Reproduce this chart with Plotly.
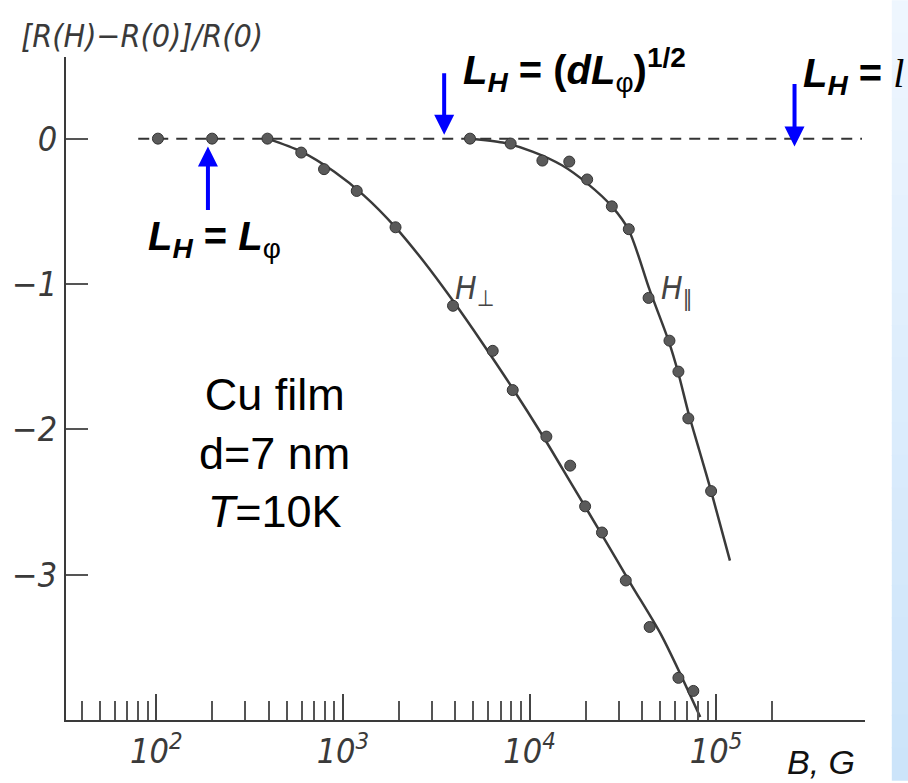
import plotly.graph_objects as go

# ---------------- data ----------------
perp_B = [102, 199, 394, 598, 792, 1186, 1914, 3890, 6350, 8128, 12310, 16520,
          19860, 24450, 32800, 44030, 62800, 75500]
perp_R = [0, 0, 0, -0.096, -0.21, -0.36, -0.61, -1.15, -1.46, -1.73, -2.05, -2.25,
          -2.53, -2.71, -3.04, -3.36, -3.71, -3.80]
perp_fit_B = [394, 598, 896, 1294, 1914, 2698, 3890, 5623, 8128, 11720, 16940,
              24450, 35320, 50940, 82200]
perp_fit_R = [0, -0.089, -0.226, -0.39, -0.61, -0.842, -1.116, -1.411, -1.719,
              -2.041, -2.384, -2.726, -3.075, -3.418, -3.98]

par_B = [4797, 7925, 11720, 16330, 20370, 27610, 34040, 43450, 56230, 62800, 70960, 94000]
par_R = [0, -0.034, -0.151, -0.158, -0.281, -0.466, -0.623, -1.096, -1.39, -1.603,
         -1.925, -2.425]
par_fit_B = [4797, 7178, 10370, 15000, 20370, 27610, 34040, 44030, 55590, 62800,
             70960, 81230, 94000, 118600]
par_fit_R = [0, -0.027, -0.089, -0.185, -0.308, -0.466, -0.630, -1.041, -1.390,
             -1.616, -1.884, -2.144, -2.425, -2.904]

zero_B = [80, 605000]
zero_R = [0, 0]

x_major = [100, 1000, 10000, 100000]
x_major_text = ["10<sup>2</sup>", "10<sup>3</sup>", "10<sup>4</sup>", "10<sup>5</sup>"]
x_minor = [40, 50, 60, 70, 80, 90,
           200, 300, 400, 500, 600, 700, 800, 900,
           2000, 3000, 4000, 5000, 6000, 7000, 8000, 9000,
           20000, 30000, 40000, 50000, 60000, 70000, 80000, 90000,
           200000]
y_ticks = [0, -1, -2, -3]
y_ticktext = ["0", "\u22121", "\u22122", "\u22123"]

# ---------------- layout helpers ----------------
W, H = 908, 783
L_M, R_M, T_M, B_M = 60, 43, 57, 60
PW, PH = W - L_M - R_M, H - T_M - B_M


def PX(x):
    return (x - L_M) / PW


def PY(y):
    return (H - B_M - y) / PH


SCAN = "Liberation Sans Narrow, DejaVu Sans Condensed, Arial Narrow, sans-serif"
ARIAL = "Liberation Sans, Arial, sans-serif"
INK = "#3a3a3a"

fig = go.Figure()

fig.add_trace(go.Scatter(x=zero_B, y=zero_R, mode="lines",
                         line=dict(color="#333333", width=2, dash="11px,8px"),
                         hoverinfo="skip", showlegend=False))
fig.add_trace(go.Scatter(x=perp_fit_B, y=perp_fit_R, mode="lines", line_shape="spline",
                         line=dict(color=INK, width=2.5, smoothing=0.8), showlegend=False))
fig.add_trace(go.Scatter(x=par_fit_B, y=par_fit_R, mode="lines", line_shape="spline",
                         line=dict(color=INK, width=2.5, smoothing=0.8), showlegend=False))
fig.add_trace(go.Scatter(x=perp_B, y=perp_R, mode="markers",
                         marker=dict(size=11, color="#5a5a5a",
                                     line=dict(color="#333333", width=1)),
                         showlegend=False))
fig.add_trace(go.Scatter(x=par_B, y=par_R, mode="markers",
                         marker=dict(size=11, color="#5a5a5a",
                                     line=dict(color="#333333", width=1)),
                         showlegend=False))

# light-blue strip on the right edge (gradient)
n = 24
c0 = (238, 246, 254)
c1 = (204, 228, 250)
for i in range(n):
    t = i / (n - 1)
    col = "rgb(%d,%d,%d)" % tuple(round(a + (b - a) * t) for a, b in zip(c0, c1))
    fig.add_shape(type="rect", xref="paper", yref="paper",
                  x0=PX(892), x1=PX(910),
                  y0=PY(H * (i + 1) / n + 1), y1=PY(H * i / n),
                  fillcolor=col, line=dict(width=0), layer="below")

ann = []
# axis titles
ann.append(dict(text="[R(H)\u2212R(0)]/R(0)", x=PX(13), y=PY(36), xref="paper", yref="paper",
                xanchor="left", yanchor="middle", showarrow=False,
                font=dict(family=SCAN, size=32, color=INK, style="italic")))
ann.append(dict(text="B, G", x=PX(784), y=PY(765), xref="paper", yref="paper",
                xanchor="left", yanchor="middle", showarrow=False,
                font=dict(family=ARIAL, size=34, color="#111", style="italic")))
# curve labels
ann.append(dict(text="H<sub>\u22a5</sub>", x=PX(450), y=PY(268), xref="paper", yref="paper",
                xanchor="left", yanchor="top", showarrow=False,
                font=dict(family=SCAN, size=32, color="#444", style="italic")))
ann.append(dict(text="H<sub>\u2225</sub>", x=PX(657), y=PY(268), xref="paper", yref="paper",
                xanchor="left", yanchor="top", showarrow=False,
                font=dict(family=SCAN, size=32, color="#444", style="italic")))
# sample description
ann.append(dict(text="Cu film<br>d=7 nm<br><i>T</i>=10K", x=PX(270), y=PY(455),
                xref="paper", yref="paper", xanchor="center", yanchor="middle",
                showarrow=False, align="center",
                font=dict(family=ARIAL, size=45, color="#000")))
# L_H labels
BOLD = dict(family=ARIAL, size=40, color="#000")
ann.append(dict(text="<b><i>L</i><sub><i>H</i></sub> = <i>L</i></b><sub>\u03c6</sub>",
                x=PX(141), y=PY(240), xref="paper", yref="paper",
                xanchor="left", yanchor="middle", showarrow=False, font=BOLD))
ann.append(dict(text="<b><i>L</i><sub><i>H</i></sub> = (<i>dL</i></b><sub>\u03c6</sub><b>)<sup>1/2</sup></b>",
                x=PX(458), y=PY(70), xref="paper", yref="paper",
                xanchor="left", yanchor="middle", showarrow=False, font=BOLD))
ann.append(dict(text="<b><i>L</i><sub><i>H</i></sub> = </b><span style=\"font-family:'Liberation Serif'\"><i>l</i></span>",
                x=PX(801), y=PY(76), xref="paper", yref="paper",
                xanchor="left", yanchor="middle", showarrow=False, font=BOLD))
# blue arrows
for (xt, yt, dy) in [(203, 147, 65), (441, 135, -63), (794, 147, -64)]:
    ann.append(dict(text="", x=PX(xt), y=PY(yt), xref="paper", yref="paper",
                    ax=0, ay=dy, showarrow=True, arrowhead=2, arrowsize=1,
                    arrowwidth=4, arrowcolor="#0000ff", standoff=0))

fig.update_layout(
    width=W, height=H,
    margin=dict(l=L_M, r=R_M, t=T_M, b=B_M),
    paper_bgcolor="white", plot_bgcolor="white",
    showlegend=False,
    annotations=ann,
    xaxis=dict(type="log", range=[2 + (L_M - 151) / 188, 2 + (W - R_M - 151) / 188],
               showgrid=False, zeroline=False,
               showline=True, linecolor="#3a3a3a", linewidth=2,
               tickmode="array", tickvals=x_major, ticktext=x_major_text,
               ticks="inside", ticklen=26, tickwidth=1.5, tickcolor="#444",
               tickfont=dict(family=SCAN, size=34, color=INK, style="italic"),
               minor=dict(tickmode="array", tickvals=x_minor, ticks="inside",
                          ticklen=19, tickwidth=1.5, tickcolor="#555")),
    yaxis=dict(range=[-(723 - 139) / 146, (139 - 57) / 146],
               showgrid=False, zeroline=False,
               showline=True, linecolor="#3a3a3a", linewidth=2,
               tickmode="array", tickvals=y_ticks, ticktext=y_ticktext,
               ticks="inside", ticklen=22, tickwidth=1.5, tickcolor="#555",
               tickfont=dict(family=SCAN, size=34, color=INK, style="italic")),
)

fig.write_html("out.html")
